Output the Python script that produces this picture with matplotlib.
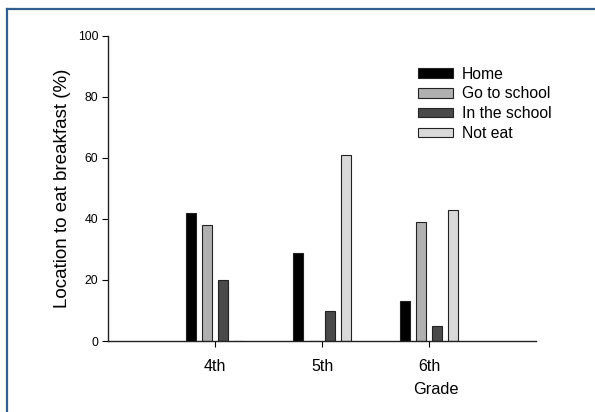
import matplotlib
matplotlib.use("Agg")
import matplotlib.pyplot as plt
import numpy as np
from matplotlib.lines import Line2D

grades = ["4th", "5th", "6th"]
series = ["Home", "Go to school", "In the school", "Not eat"]
home = [42, 29, 13]
go_to_school = [38, 0, 39]
in_the_school = [20, 10, 5]
not_eat = [0, 61, 43]
values = [home, go_to_school, in_the_school, not_eat]
colors = ["#000000", "#b0b0b0", "#4a4a4a", "#d9d9d9"]

plt.rcParams['font.family'] = ['Liberation Sans', 'DejaVu Sans']

fig = plt.figure(figsize=(5.95, 4.12), dpi=100)
ax = fig.add_axes([108 / 595, 1 - 341 / 412, 428 / 595, 305 / 412])

x = np.arange(len(grades))
step = 0.15
width = 0.10
for i, (name, vals) in enumerate(zip(series, values)):
    ax.bar(x + (i - 1.5) * step, vals, width, color=colors[i],
           edgecolor="#222222", linewidth=0.8, label=name)

ax.set_xlim(-1, 3)
ax.set_ylim(0, 100)
ax.set_yticks(range(0, 101, 20))
ax.set_xticks(x)
ax.set_xticklabels(grades, fontsize=11.5)
ax.tick_params(axis="y", labelsize=8.8, length=4, width=0.8, direction="out", pad=3)
ax.tick_params(axis="x", length=4, width=0.8, direction="out", pad=9)
ax.spines["top"].set_visible(False)
ax.spines["right"].set_visible(False)
for s in ["left", "bottom"]:
    ax.spines[s].set_linewidth(1.0)
    ax.spines[s].set_color("#222222")

ax.set_ylabel("Location to eat breakfast (%)", fontsize=13.5, labelpad=5)
fig.text(436 / 595, 1 - 390 / 412, "Grade", fontsize=11.8, ha="center", va="center")

leg = ax.legend(loc="upper left", bbox_to_anchor=(304 / 428, 0.92), frameon=False,
                fontsize=11.3, handlelength=2.2, handleheight=0.55,
                handletextpad=0.6, labelspacing=0.3, borderaxespad=0)

# figure border (top and left only)
fig.add_artist(Line2D([6.5 / 595, 1], [1 - 8.5 / 412, 1 - 8.5 / 412],
                      transform=fig.transFigure, color="#2f5f8f", linewidth=1.6))
fig.add_artist(Line2D([6.5 / 595, 6.5 / 595], [0, 1 - 8.5 / 412],
                      transform=fig.transFigure, color="#2f5f8f", linewidth=1.6))

fig.savefig("out.png", dpi=100)
